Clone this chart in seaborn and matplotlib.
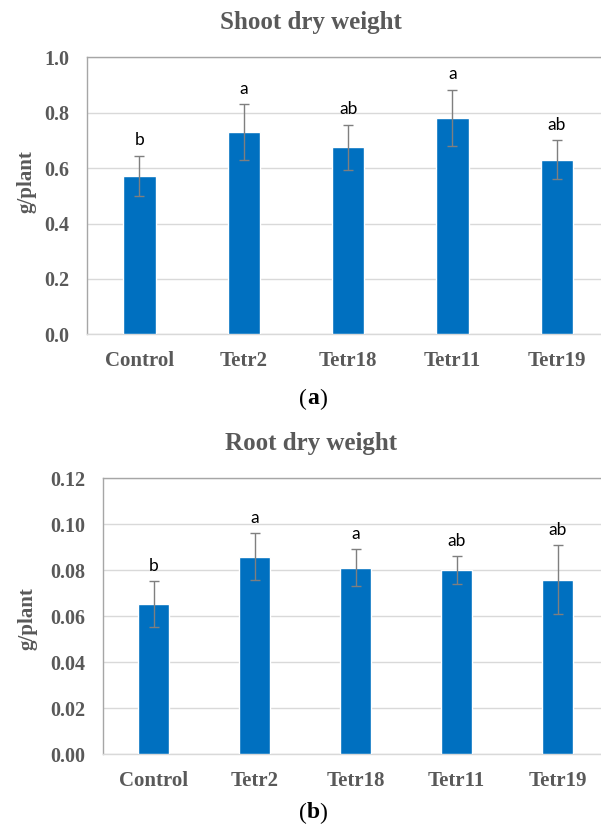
import matplotlib
matplotlib.use("Agg")
import matplotlib.pyplot as plt
import seaborn as sns
import numpy as np
import pandas as pd

# data
treatments = ["Control", "Tetr2", "Tetr18", "Tetr11", "Tetr19"]

shoot_mean = [0.572, 0.729, 0.675, 0.782, 0.630]
shoot_err = [0.073, 0.101, 0.082, 0.101, 0.070]
shoot_letters = ["b", "a", "ab", "a", "ab"]

root_mean = [0.0653, 0.0859, 0.0811, 0.0800, 0.0759]
root_err = [0.0099, 0.0101, 0.0081, 0.0062, 0.0150]
root_letters = ["b", "a", "a", "ab", "ab"]

shoot_ticks = [0.0, 0.2, 0.4, 0.6, 0.8, 1.0]
root_ticks = [0.00, 0.02, 0.04, 0.06, 0.08, 0.10, 0.12]

BAR = "#0070C0"
GREY_TXT = "#595959"
SERIF = "Liberation Serif"

sns.set_style("white")
plt.rcParams["font.family"] = [SERIF, "DejaVu Sans"]

W, H = 601, 832
fig = plt.figure(figsize=(W / 100, H / 100), dpi=100)


def px_axes(left, top, right, bottom):
    return fig.add_axes([left / W, 1 - bottom / H, (right - left) / W, (bottom - top) / H])


def draw_panel(ax, means, errs, letters, ticks, fmt, title, title_y, ylab_pos):
    df = pd.DataFrame({"treatment": treatments, "value": means})
    sns.barplot(data=df, x="treatment", y="value", color=BAR, width=0.31,
                saturation=1, errorbar=None, ax=ax, zorder=3)
    x = np.arange(len(treatments))
    ax.errorbar(x, means, yerr=errs, fmt="none", ecolor="#7f7f7f",
                elinewidth=1, capsize=3.3, capthick=1, zorder=4)
    for xi, m, e, lab in zip(x, means, errs, letters):
        ax.annotate(lab, (xi, m + e), xytext=(0, 7.5), textcoords="offset points",
                    ha="center", va="baseline", fontsize=12.5, family="Lato",
                    color="black")

    ax.set_ylim(ticks[0], ticks[-1])
    ax.set_xlim(-0.5, len(treatments) - 0.5)
    ax.set_yticks(ticks)
    ax.set_yticklabels([fmt.format(t) for t in ticks])
    ax.yaxis.grid(True, color="#d9d9d9", linewidth=1, zorder=0)
    ax.set_axisbelow(True)
    ax.tick_params(axis="y", length=0, pad=13, labelsize=14.5, labelcolor=GREY_TXT)
    ax.tick_params(axis="x", length=0, pad=12, labelsize=15, labelcolor=GREY_TXT)
    for lab in ax.get_xticklabels() + ax.get_yticklabels():
        lab.set_fontweight("bold")
    ax.set_xlabel("")
    ax.set_ylabel("g/plant", fontsize=15, fontweight="bold", color=GREY_TXT)
    ax.yaxis.set_label_coords(*ylab_pos)
    for side in ["left", "top", "right"]:
        ax.spines[side].set_color("#a6a6a6")
        ax.spines[side].set_linewidth(1)
    ax.spines["bottom"].set_color("#d9d9d9")
    ax.spines["bottom"].set_linewidth(1)

    fig.text(311 / W, 1 - title_y / H, title, ha="center", va="baseline",
             fontsize=18, fontweight="bold", color=GREY_TXT)


def caption(letter, cx, cy):
    fig.text((cx - 6) / W, 1 - cy / H, "(", ha="right", va="center", fontsize=17, color="black")
    fig.text(cx / W, 1 - cy / H, letter, ha="center", va="center", fontsize=17,
             fontweight="bold", color="black")
    fig.text((cx + 6) / W, 1 - cy / H, ")", ha="left", va="center", fontsize=17, color="black")


ax1 = px_axes(87.3, 57.3, 609, 334.3)
draw_panel(ax1, shoot_mean, shoot_err, shoot_letters, shoot_ticks, "{:.1f}",
           "Shoot dry weight", 29.5, (-0.097, 0.55))
caption("a", 313, 399)

ax2 = px_axes(103.3, 478.3, 608, 754)
draw_panel(ax2, root_mean, root_err, root_letters, root_ticks, "{:.2f}",
           "Root dry weight", 450, (-0.131, 0.49))
caption("b", 313, 813)

fig.savefig("out.png", dpi=100)
